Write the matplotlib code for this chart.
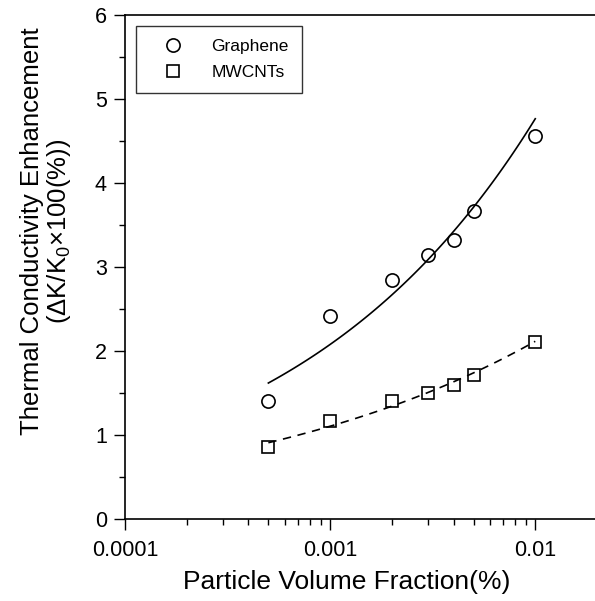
import numpy as np
import matplotlib
matplotlib.use("Agg")
import matplotlib.pyplot as plt
from matplotlib.ticker import MultipleLocator, LogLocator, NullFormatter, FixedFormatter, FixedLocator

plt.rcParams['font.family'] = ['Liberation Sans', 'DejaVu Sans']
plt.rcParams['mathtext.fontset'] = 'custom'
plt.rcParams['mathtext.rm'] = 'Liberation Sans'

frac = [0.0005, 0.001, 0.002, 0.003, 0.004, 0.005, 0.01]
graphene = [1.40, 2.42, 2.84, 3.14, 3.32, 3.67, 4.56]
mwcnt = [0.86, 1.17, 1.40, 1.50, 1.60, 1.71, 2.11]

# power-law fits, done in log-log space
def power_fit(x, y):
  b, a = np.polyfit(np.log(x), np.log(y), 1)
  xs = np.logspace(np.log10(min(x)), np.log10(max(x)), 100)
  return xs, np.exp(a) * xs**b

fig = plt.figure(figsize=(5.95, 6.01), dpi=100)
ax = fig.add_axes([125/595, 1 - 519/601, 472/595, 504/601])

xs, ys = power_fit(frac, graphene)
ax.plot(xs, ys, color='black', lw=1.2)
xs, ys = power_fit(frac, mwcnt)
ax.plot(xs, ys, color='black', lw=1.2, ls=(0, (5, 4)))

ax.plot(frac, graphene, 'o', ms=9.5, mfc='none', mec='black', mew=1.2, label='Graphene')
ax.plot(frac, mwcnt, 's', ms=9, mfc='none', mec='black', mew=1.2, label='MWCNTs')

ax.set_xscale('log')
ax.set_xlim(1e-4, 2e-2)
ax.set_ylim(0, 6)
ax.xaxis.set_major_locator(FixedLocator([1e-4, 1e-3, 1e-2]))
ax.xaxis.set_major_formatter(FixedFormatter(['0.0001', '0.001', '0.01']))
ax.xaxis.set_minor_locator(LogLocator(base=10, subs=np.arange(2, 10)))
ax.xaxis.set_minor_formatter(NullFormatter())
ax.yaxis.set_major_locator(MultipleLocator(1))
ax.yaxis.set_minor_locator(MultipleLocator(0.5))

ax.tick_params(which='major', direction='out', length=8, width=1, labelsize=15.5)
ax.tick_params(axis='x', which='major', pad=7)
ax.tick_params(axis='y', which='major', pad=5)
ax.tick_params(which='minor', direction='out', length=4.5, width=1)
ax.spines['right'].set_visible(False)
for s in ['left', 'bottom', 'top']:
  ax.spines[s].set_linewidth(1.2)

ax.set_xlabel('Particle Volume Fraction(%)', fontsize=19)
ax.xaxis.set_label_coords(0.47, -0.101, transform=ax.transAxes)
ax.set_ylabel('Thermal Conductivity Enhancement\n' + r'($\Delta$K/K$_0$$\times$100(%))',
              fontsize=18.5, linespacing=1.05)
ax.yaxis.set_label_coords(-0.110, 0.571, transform=ax.transAxes)

leg = ax.legend(loc='upper left', fontsize=12.5, frameon=True, fancybox=False,
                edgecolor='black', handletextpad=0.8, borderpad=0.75,
                borderaxespad=0, handlelength=2.8, labelspacing=0.6,
                bbox_to_anchor=(11/472, 1 - 11/504))
leg.get_frame().set_linewidth(1.0)

plt.savefig('out.png', dpi=100)
